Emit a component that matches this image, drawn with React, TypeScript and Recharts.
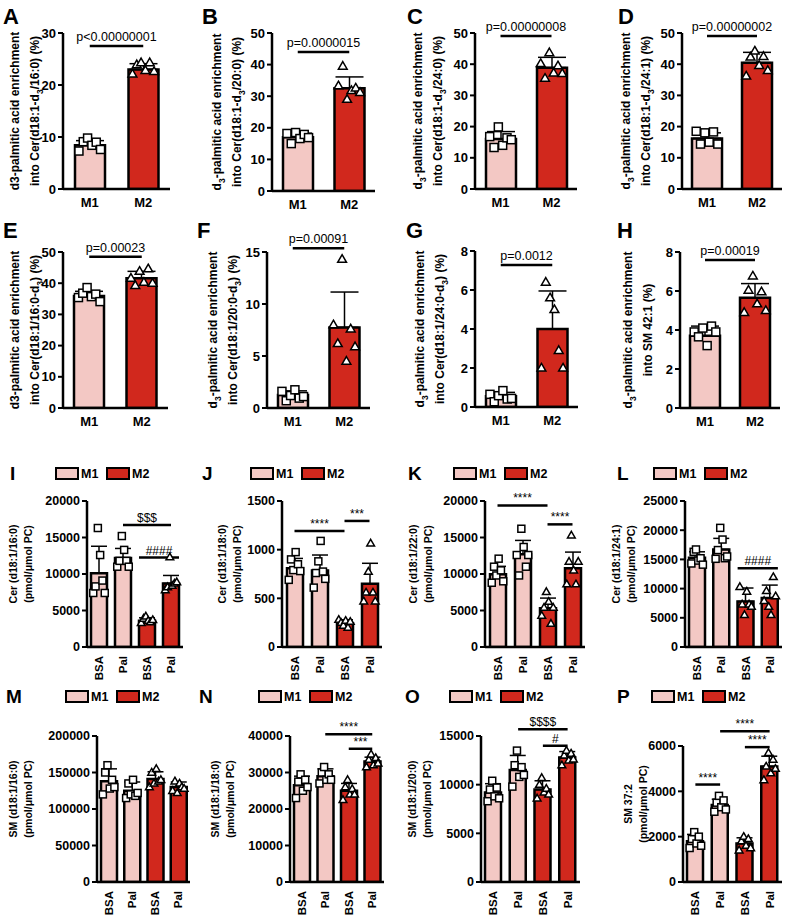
import React from 'react';
import { ComposedChart, Bar, Cell, ErrorBar, Scatter, XAxis, YAxis, ReferenceLine } from 'recharts';

const FONT = '"Liberation Sans", Arial, Helvetica, sans-serif';
const PINK = '#F3C8C4';
const RED = '#D1281D';

// categories and tick labels
const catsMM = ['M1', 'M2'];
const catsTreat = ['M1 BSA', 'M1 Pal', 'M2 BSA', 'M2 Pal'];
const treatTicks = ['BSA', 'Pal', 'BSA', 'Pal'];

// A-H: enrichment (%)
const aMean = [8.4, 23.0];
const aSd = [0.9, 1.1];
const aPts = [[7.3, 9.1, 9.8, 8.4, 9.0, 7.6], [22.1, 23.9, 24.3, 22.8, 24.3, 22.6]];
const bMean = [17.0, 32.5];
const bSd = [1.3, 3.6];
const bPts = [[18.2, 15.0, 18.5, 16.6, 17.9, 16.9], [33.3, 39.5, 29.0, 31.8, 32.6, 31.2]];
const cMean = [16.0, 38.9];
const cSd = [2.4, 3.3];
const cPts = [[16.8, 13.3, 19.9, 14.0, 16.4, 15.8], [40.2, 35.5, 43.7, 37.2, 39.5, 37.0]];
const dMean = [16.2, 40.5];
const dSd = [1.8, 3.3];
const dPts = [[18.5, 14.4, 18.0, 15.0, 18.3, 14.4], [36.2, 42.3, 44.2, 39.6, 42.5, 38.0]];
const eMean = [35.9, 41.6];
const eSd = [1.5, 2.2];
const ePts = [[35.4, 36.8, 38.6, 35.7, 36.5, 34.1], [41.6, 39.3, 43.8, 40.3, 44.6, 40.0]];
const fMean = [1.25, 7.75];
const fSd = [0.4, 3.4];
const fPts = [[1.6, 0.7, 1.2, 1.75, 0.95, 1.1], [8.0, 6.2, 14.3, 4.5, 7.6, 5.9]];
const gMean = [0.55, 4.0];
const gSd = [0.2, 1.95];
const gPts = [[0.65, 0.27, 0.58, 0.84, 0.41, 0.44], [2.0, 6.4, 5.6, 5.0, 2.9, 2.0]];
const hMean = [3.7, 5.65];
const hSd = [0.5, 0.73];
const hPts = [[3.9, 3.65, 4.1, 3.2, 4.2, 3.9], [4.9, 6.04, 6.77, 5.34, 5.96, 5.0]];

// I-L: ceramides (pmol/umol PC)
const iMean = [10100, 12200, 3600, 8700];
const iSd = [3700, 1300, 400, 1100];
const iPts = [
  [7400, 8300, 16300, 12600, 9100, 7400],
  [11000, 11800, 15200, 13300, 11800, 11000],
  [3300, 3900, 4200, 3600, 3400, 3700],
  [7800, 8200, 12300, 8400, 8700, 8900],
];
const jMean = [810, 785, 245, 650];
const jSd = [100, 160, 35, 210];
const jPts = [
  [690, 900, 790, 975, 850, 780],
  [610, 760, 880, 1090, 775, 700],
  [280, 250, 220, 270, 200, 260],
  [470, 560, 775, 1065, 560, 470],
];
const kMean = [9950, 12700, 5300, 10800];
const kSd = [1100, 1900, 1400, 2200];
const kPts = [
  [8800, 11000, 9800, 12100, 10500, 9000],
  [12600, 9800, 16200, 13700, 11000, 12600],
  [4300, 5400, 7550, 6200, 3200, 5400],
  [8600, 11700, 15300, 10500, 8600, 11700],
];
const lMean = [15300, 16700, 7800, 8400];
const lSd = [1000, 1900, 2300, 2200];
const lPts = [
  [14300, 16300, 16700, 14800, 15200, 14100],
  [15100, 16600, 20400, 18400, 15200, 15500],
  [10300, 7300, 5500, 9500, 7300, 6900],
  [7900, 9600, 6900, 5500, 12000, 8700],
];

// M-P: sphingomyelins (pmol/umol PC)
const mMean = [138000, 125000, 141000, 130000];
const mSd = [17000, 12000, 10000, 7000];
const mPts = [
  [120000, 150000, 160000, 128000, 140000, 130000],
  [115000, 135000, 120000, 140000, 118000, 122000],
  [130000, 150000, 135000, 155000, 138000, 140000],
  [125000, 138000, 122000, 135000, 130000, 128000],
];
const nMean = [26500, 29000, 25000, 33000];
const nSd = [2500, 2000, 2000, 1200];
const nPts = [
  [23000, 27500, 29500, 25000, 28000, 26000],
  [27000, 30000, 31500, 28000, 29500, 28000],
  [22500, 26000, 28000, 24000, 25500, 24000],
  [31500, 33500, 35000, 32000, 34000, 32500],
];
const oMean = [9200, 11500, 9500, 12800];
const oSd = [900, 1500, 900, 600];
const oPts = [
  [8300, 9500, 10400, 8800, 9700, 8600],
  [9800, 12000, 13500, 10800, 11800, 11000],
  [8600, 10000, 10700, 9200, 9600, 9000],
  [12000, 13000, 13500, 12500, 13200, 12600],
];
const pMean = [1800, 3400, 1700, 5100];
const pSd = [300, 250, 250, 450];
const pPts = [
  [1500, 1900, 2200, 1700, 2000, 1600],
  [3100, 3500, 3800, 3300, 3600, 3200],
  [1400, 1800, 2000, 1600, 1900, 1500],
  [4500, 5100, 5700, 4800, 5400, 5000],
];

type Sig = { a: string; b: string; y: number; t: string; wide?: boolean };

interface PanelDef {
  letter: string;
  col: number;
  row: number;
  axisX: number;
  top: number;
  bottom: number;
  right: number;
  yMax: number;
  ticks: number[];
  cats: string[];
  mean: number[];
  sd: number[];
  pts: number[][];
  sigs: Sig[];
  ylab: string[];
  labOff: number;
}

const COLS = [0, 195, 390, 585];
const COLW = [195, 195, 195, 203];
const ROWS = [0, 225, 455, 690];
const ROWH = [225, 230, 235, 227];
const LETTER_X = [
  [3, 202, 407, 618],
  [3, 197, 406, 617],
  [10, 202, 408, 617],
  [6, 199, 405, 617],
];
const LETTER_Y = [24, 238, 480, 703];

const t10 = [0, 10, 20, 30, 40, 50];

const panels: PanelDef[] = [
  { letter: 'A', col: 0, row: 0, axisX: 63, top: 33, bottom: 189, right: 170, yMax: 30, ticks: [0, 10, 20, 30], cats: catsMM, mean: aMean, sd: aSd, pts: aPts,
    sigs: [{ a: 'M1', b: 'M2', y: 27.5, t: 'p<0.00000001' }], ylab: ['d3-palmitic acid enrichment', 'into Cer(d18:1-d_3/16:0) (%)'], labOff: 28 },
  { letter: 'B', col: 1, row: 0, axisX: 272, top: 33, bottom: 191, right: 375, yMax: 50, ticks: t10, cats: catsMM, mean: bMean, sd: bSd, pts: bPts,
    sigs: [{ a: 'M1', b: 'M2', y: 44, t: 'p=0.0000015' }], ylab: ['d_3-palmitic acid enrichment', 'into Cer(d18:1-d_3/20:0) (%)'], labOff: 35 },
  { letter: 'C', col: 2, row: 0, axisX: 475, top: 33, bottom: 189, right: 577, yMax: 50, ticks: t10, cats: catsMM, mean: cMean, sd: cSd, pts: cPts,
    sigs: [{ a: 'M1', b: 'M2', y: 49, t: 'p=0.00000008' }], ylab: ['d_3-palmitic acid enrichment', 'into Cer(d18:1-d_3/24:0) (%)'], labOff: 37 },
  { letter: 'D', col: 3, row: 0, axisX: 682, top: 33, bottom: 189, right: 782, yMax: 50, ticks: t10, cats: catsMM, mean: dMean, sd: dSd, pts: dPts,
    sigs: [{ a: 'M1', b: 'M2', y: 49, t: 'p=0.00000002' }], ylab: ['d_3-palmitic acid enrichment', 'into Cer(d18:1-d_3/24:1) (%)'], labOff: 36 },
  { letter: 'E', col: 0, row: 1, axisX: 63, top: 252, bottom: 408, right: 168, yMax: 50, ticks: t10, cats: catsMM, mean: eMean, sd: eSd, pts: ePts,
    sigs: [{ a: 'M1', b: 'M2', y: 48.5, t: 'p=0.00023' }], ylab: ['d3-palmitic acid enrichment', 'into Cer(d18:1/16:0-d_3) (%)'], labOff: 28 },
  { letter: 'F', col: 1, row: 1, axisX: 267, top: 252, bottom: 408, right: 370, yMax: 15, ticks: [0, 5, 10, 15], cats: catsMM, mean: fMean, sd: fSd, pts: fPts,
    sigs: [{ a: 'M1', b: 'M2', y: 15.35, t: 'p=0.00091' }], ylab: ['d_3-palmitic acid enrichment', 'into Cer(d18:1/20:0-d_3) (%)'], labOff: 34 },
  { letter: 'G', col: 2, row: 1, axisX: 475, top: 251, bottom: 407, right: 578, yMax: 8, ticks: [0, 2, 4, 6, 8], cats: catsMM, mean: gMean, sd: gSd, pts: gPts,
    sigs: [{ a: 'M1', b: 'M2', y: 7.28, t: 'p=0.0012' }], ylab: ['d_3-palmitic acid enrichment', 'into Cer(d18:1/24:0-d_3) (%)'], labOff: 35 },
  { letter: 'H', col: 3, row: 1, axisX: 680, top: 252, bottom: 408, right: 780, yMax: 8, ticks: [0, 2, 4, 6, 8], cats: catsMM, mean: hMean, sd: hSd, pts: hPts,
    sigs: [{ a: 'M1', b: 'M2', y: 7.59, t: 'p=0.00019' }], ylab: ['d_3-palmitic acid enrichment', 'into SM 42:1 (%)'], labOff: 32 },
  { letter: 'I', col: 0, row: 2, axisX: 87, top: 501, bottom: 647, right: 183, yMax: 20000, ticks: [0, 5000, 10000, 15000, 20000], cats: catsTreat, mean: iMean, sd: iSd, pts: iPts,
    sigs: [{ a: 'M1 Pal', b: 'M2 Pal', y: 16700, t: '$$$' }, { a: 'M2 BSA', b: 'M2 Pal', y: 12250, t: '####', wide: true }],
    ylab: ['Cer (d18:1/16:0)', '(pmol/μmol PC)'], labOff: 59 },
  { letter: 'J', col: 1, row: 2, axisX: 282, top: 501, bottom: 647, right: 382, yMax: 1500, ticks: [0, 500, 1000, 1500], cats: catsTreat, mean: jMean, sd: jSd, pts: jPts,
    sigs: [{ a: 'M1 BSA', b: 'M2 BSA', y: 1192, t: '****' }, { a: 'M2 BSA', b: 'M2 Pal', y: 1295, t: '***' }],
    ylab: ['Cer (d18:1/18:0)', '(pmol/μmol PC)'], labOff: 45 },
  { letter: 'K', col: 2, row: 2, axisX: 485, top: 501, bottom: 647, right: 585, yMax: 20000, ticks: [0, 5000, 10000, 15000, 20000], cats: catsTreat, mean: kMean, sd: kSd, pts: kPts,
    sigs: [{ a: 'M1 BSA', b: 'M2 BSA', y: 19400, t: '****' }, { a: 'M2 BSA', b: 'M2 Pal', y: 16800, t: '****' }],
    ylab: ['Cer (d18:1/22:0)', '(pmol/μmol PC)'], labOff: 57 },
  { letter: 'L', col: 3, row: 2, axisX: 685, top: 501, bottom: 647, right: 782, yMax: 25000, ticks: [0, 5000, 10000, 15000, 20000, 25000], cats: catsTreat, mean: lMean, sd: lSd, pts: lPts,
    sigs: [{ a: 'M2 BSA', b: 'M2 Pal', y: 13500, t: '####', wide: true }],
    ylab: ['Cer (d18:1/24:1)', '(pmol/μmol PC)'], labOff: 54 },
  { letter: 'M', col: 0, row: 3, axisX: 97, top: 736, bottom: 882, right: 190, yMax: 200000, ticks: [0, 50000, 100000, 150000, 200000], cats: catsTreat, mean: mMean, sd: mSd, pts: mPts,
    sigs: [], ylab: ['SM (d18:1/16:0)', '(pmol/μmol PC)'], labOff: 69 },
  { letter: 'N', col: 1, row: 3, axisX: 290, top: 736, bottom: 882, right: 384, yMax: 40000, ticks: [0, 10000, 20000, 30000, 40000], cats: catsTreat, mean: nMean, sd: nSd, pts: nPts,
    sigs: [{ a: 'M1 Pal', b: 'M2 Pal', y: 40500, t: '****' }, { a: 'M2 BSA', b: 'M2 Pal', y: 36500, t: '***' }],
    ylab: ['SM (d18:1/18:0)', '(pmol/μmol PC)'], labOff: 60 },
  { letter: 'O', col: 2, row: 3, axisX: 481, top: 736, bottom: 882, right: 580, yMax: 15000, ticks: [0, 5000, 10000, 15000], cats: catsTreat, mean: oMean, sd: oSd, pts: oPts,
    sigs: [{ a: 'M1 Pal', b: 'M2 Pal', y: 15700, t: '$$$$' }, { a: 'M2 BSA', b: 'M2 Pal', y: 14000, t: '#' }],
    ylab: ['SM (d18:1/20:0)', '(pmol/μmol PC)'], labOff: 54 },
  { letter: 'P', col: 3, row: 3, axisX: 683, top: 746, bottom: 882, right: 782, yMax: 6000, ticks: [0, 2000, 4000, 6000], cats: catsTreat, mean: pMean, sd: pSd, pts: pPts,
    sigs: [{ a: 'M1 BSA', b: 'M1 Pal', y: 4300, t: '****' }, { a: 'M1 Pal', b: 'M2 Pal', y: 6650, t: '****' }, { a: 'M2 BSA', b: 'M2 Pal', y: 5950, t: '****' }],
    ylab: ['SM 37:2', '(pmol/μmol PC)'], labOff: 40 },
];

const renderSub = (s: string, size: number) => {
  const parts = s.split(/_(\d)/);
  return parts.map((part, i) =>
    i % 2 === 1 ? (
      <tspan key={i} dy={size * 0.3} fontSize={size * 0.72}>{part}</tspan>
    ) : (
      <tspan key={i} dy={i > 0 ? -size * 0.3 : 0}>{part}</tspan>
    )
  );
};

const YLabel = (props: any) => {
  const { lines, lx, ly, gap, size } = props;
  return (
    <g>
      {lines.map((ln: string, i: number) => {
        const cx = lx - (lines.length - 1 - i) * gap;
        return (
          <text key={i} transform={`translate(${cx},${ly}) rotate(-90)`} y={size * 0.35} textAnchor="middle"
            fontFamily={FONT} fontWeight="bold" fontSize={size} fill="#000">
            {renderSub(ln, size)}
          </text>
        );
      })}
    </g>
  );
};

const RotTick = (props: any) => {
  const { x, y, payload } = props;
  const label = treatTicks[catsTreat.indexOf(payload.value)];
  return (
    <text transform={`translate(${x},${y}) rotate(-90)`} y={4} textAnchor="end" fontFamily={FONT}
      fontWeight="bold" fontSize={11.5} fill="#000">
      {label}
    </text>
  );
};

const marker = (spread: number, s: number) => (props: any) => {
  const { cx, cy, payload } = props;
  if (cx == null || cy == null || !payload) return <g />;
  const x = cx + (payload.n > 1 ? (payload.k / (payload.n - 1) - 0.5) * spread : 0);
  const h = s / 2;
  if (String(payload.name).startsWith('M2')) {
    return (
      <polygon points={`${x},${cy - h * 1.15} ${x + h * 1.1},${cy + h * 0.75} ${x - h * 1.1},${cy + h * 0.75}`}
        fill="#fff" stroke="#000" strokeWidth={1.5} />
    );
  }
  return <rect x={x - h} y={cy - h} width={s} height={s} fill="#fff" stroke="#000" strokeWidth={1.5} />;
};

const sigShape = (ext: number) => (props: any) => (
  <line x1={props.x1 - ext} y1={props.y1} x2={props.x2 + ext} y2={props.y2} stroke="#000" strokeWidth={2.5} />
);

function Panel({ p }: { p: PanelDef }) {
  const colX = COLS[p.col];
  const rowY = ROWS[p.row];
  const W = COLW[p.col];
  const H = ROWH[p.row];
  const four = p.cats.length === 4;
  const yw = 50;
  const xh = 30;
  const margin = {
    top: p.top - rowY,
    left: p.axisX - colX - yw,
    right: colX + W - p.right,
    bottom: rowY + H - p.bottom - xh,
  };
  const barW = four ? 16 : 30;
  const data = p.cats.map((c, i) => ({ name: c, mean: p.mean[i], err: [0, p.sd[i]] }));
  const pts = p.cats.flatMap((c, i) => p.pts[i].map((v, k) => ({ name: c, v, k, n: p.pts[i].length })));
  const tickFont = four ? 12.5 : 13;
  const labSize = four ? 10.5 : 12;
  const gap = four ? 15 : 20;
  const lx = p.axisX - colX - p.labOff;
  const ly = (p.top + p.bottom) / 2 - rowY + (four ? -10 : 0);

  return (
    <div style={{ position: 'absolute', left: colX, top: rowY }}>
      <ComposedChart width={W} height={H} data={data} margin={margin}>
        <XAxis
          dataKey="name"
          allowDuplicatedCategory={false}
          interval={0}
          height={xh}
          axisLine={{ stroke: '#000', strokeWidth: 2.5 }}
          tickLine={false}
          tickMargin={3}
          tick={four ? <RotTick /> : { fill: '#000', fontSize: 13, fontWeight: 'bold', fontFamily: FONT }}
        />
        <YAxis
          type="number"
          domain={[0, p.yMax]}
          allowDataOverflow
          ticks={p.ticks}
          interval={0}
          width={yw}
          tickSize={5}
          axisLine={{ stroke: '#000', strokeWidth: 2.5 }}
          tickLine={{ stroke: '#000', strokeWidth: 2 }}
          tick={{ fill: '#000', fontSize: tickFont, fontWeight: 'bold', fontFamily: FONT }}
          label={<YLabel lines={p.ylab} lx={lx} ly={ly} gap={gap} size={labSize} />}
        />
        <Bar dataKey="mean" barSize={barW} stroke="#000" strokeWidth={2.5} isAnimationActive={false}>
          {data.map((d) => (
            <Cell key={d.name} fill={d.name.startsWith('M1') ? PINK : RED} />
          ))}
          <ErrorBar dataKey="err" width={four ? 8 : 14} stroke="#000" strokeWidth={1.5} direction="y" />
        </Bar>
        <Scatter data={pts} dataKey="v" shape={marker(barW * 0.72, four ? 7 : 8)} isAnimationActive={false} />
        {p.sigs.map((s, i) => (
          <ReferenceLine
            key={i}
            ifOverflow="visible"
            segment={[{ x: s.a, y: s.y }, { x: s.b, y: s.y }]}
            shape={sigShape(s.wide ? barW / 2 : 0)}
            label={{ value: s.t, position: 'top', offset: four ? 3 : 5, fill: '#000', fontSize: four ? 12 : 12.5, fontFamily: FONT }}
          />
        ))}
      </ComposedChart>
    </div>
  );
}

function LegendKey({ x, y }: { x: number; y: number }) {
  return (
    <g fontFamily={FONT} fontWeight="bold" fontSize={12.5}>
      <rect x={x} y={y} width={22} height={11} fill={PINK} stroke="#000" strokeWidth={2} />
      <text x={x + 25} y={y + 10}>{catsMM[0]}</text>
      <rect x={x + 51} y={y} width={22} height={11} fill={RED} stroke="#000" strokeWidth={2} />
      <text x={x + 76} y={y + 10}>{catsMM[1]}</text>
    </g>
  );
}

export default function App() {
  return (
    <div style={{ position: 'relative', width: 788, height: 917, background: '#fff', overflow: 'hidden' }}>
      <style>{'body{margin:0}'}</style>
      {panels.map((p) => (
        <Panel key={p.letter} p={p} />
      ))}
      <svg width={788} height={917} style={{ position: 'absolute', left: 0, top: 0, pointerEvents: 'none' }}>
        {panels.map((p) => (
          <text key={p.letter} x={LETTER_X[p.row][p.col]} y={LETTER_Y[p.row]} fontFamily={FONT} fontWeight="bold"
            fontSize={p.row < 2 ? 22 : 19} fill="#000">
            {p.letter}
          </text>
        ))}
        {panels
          .filter((p) => p.row >= 2)
          .map((p) => (
            <LegendKey key={p.letter} x={p.axisX - 31} y={LETTER_Y[p.row] - 12} />
          ))}
      </svg>
    </div>
  );
}
